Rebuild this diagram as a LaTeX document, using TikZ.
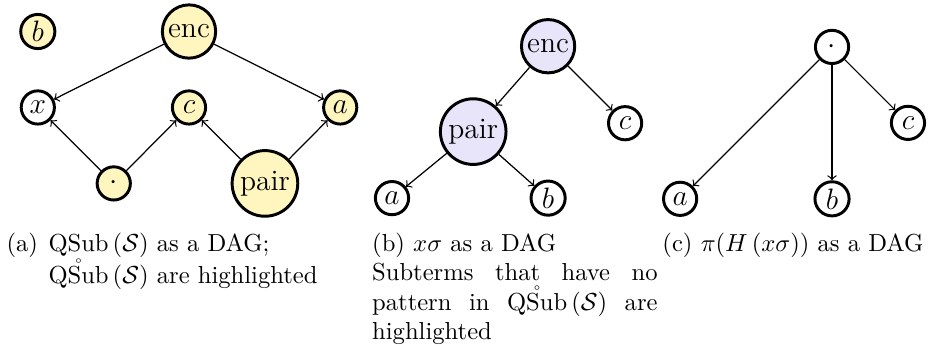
\documentclass[tikz,border=0pt]{standalone}
\usepackage{amsmath,amssymb}
\usepackage{tikz}
\usetikzlibrary{positioning}

\definecolor{hlyellow}{RGB}{255,245,190}
\definecolor{hlviolet}{RGB}{232,228,250}

\newcommand{\qsub}{\mathrm{QSub}\left(\mathcal{S}\right)}
\newcommand{\qsubring}{\mathring{\mathrm{QSub}}\left(\mathcal{S}\right)}

\begin{document}
\begin{tikzpicture}[on grid,
    term/.style={circle, draw, very thick, inner sep=1.5pt, minimum size=13.5pt, font=\large},
    hlA/.style={term, fill=hlyellow},
    hlB/.style={term, fill=hlviolet},
    arc/.style={->, line width=0.5pt},
    subcap/.style={anchor=base west, inner sep=0pt}]
    \useasboundingbox (0,0) rectangle (13.257,-4.986);

    % (a) QSub(S)
    \node[hlA]                                         (encA)  at (2.70,-0.45) {enc};
    \node[hlA, left=2.16cm of encA]                    (bA)    {$b$};
    \node[term, below=1.085cm of bA]                   (xA)    {$x$};
    \node[hlA, below=1.085cm of encA]                  (cA)    {$c$};
    \node[hlA, right=2.16cm of cA]                     (aA)    {$a$};
    \node[hlA, below right=1.085cm and 1.085cm of xA]  (dotA)  {$\cdot$};
    \node[hlA, below right=1.085cm and 1.085cm of cA]  (pairA) {pair};

    \draw[arc] (encA) -- (xA);
    \draw[arc] (encA) -- (aA);
    \draw[arc] (dotA) -- (xA);
    \draw[arc] (dotA) -- (cA);
    \draw[arc] (pairA) -- (cA);
    \draw[arc] (pairA) -- (aA);

    % (b) x sigma
    \node[hlB]                                         (encB)  at (7.83,-0.66) {enc};
    \node[hlB, below left=1.22cm and 1.07cm of encB]   (pairB) {pair};
    \node[term, below right=1.1cm and 1.1cm of encB]   (cB)    {$c$};
    \node[term, below=2.17cm of encB]                  (bB)    {$b$};
    \node[term, left=2.23cm of bB]                     (aB)    {$a$};

    \draw[arc] (encB) -- (pairB);
    \draw[arc] (encB) -- (cB);
    \draw[arc] (pairB) -- (aB);
    \draw[arc] (pairB) -- (bB);

    % (c) pi(H(x sigma))
    \node[term]                                        (dotC)  at (11.886,-0.67) {$\cdot$};
    \node[term, below right=1.085cm and 1.085cm of dotC] (cC)  {$c$};
    \node[term, below=2.17cm of dotC]                  (bC)    {$b$};
    \node[term, left=2.17cm of bC]                     (aC)    {$a$};

    \draw[arc] (dotC) -- (aC);
    \draw[arc] (dotC) -- (bC);
    \draw[arc] (dotC) -- (cC);

    % captions
    \node[subcap]                                   (capA)  at (0.086,-3.586) {(a)};
    \node[subcap, text width=4.4cm, align=left]     (txtA)  at (0.686,-3.586)
        {$\qsub$ as a DAG;\\ $\qsubring$ are highlighted};
    \node[subcap, text width=116pt, align=justify]  (capB)  at (5.31,-3.586)
        {(b) $x\sigma$ as a DAG\\ Subterms that have no\linebreak pattern in $\qsubring$ are\linebreak highlighted};
    \node[subcap]                                   (capC)  at (9.457,-3.586)
        {(c) $\pi(H\left(x\sigma\right))$ as a DAG};
\end{tikzpicture}
\end{document}
